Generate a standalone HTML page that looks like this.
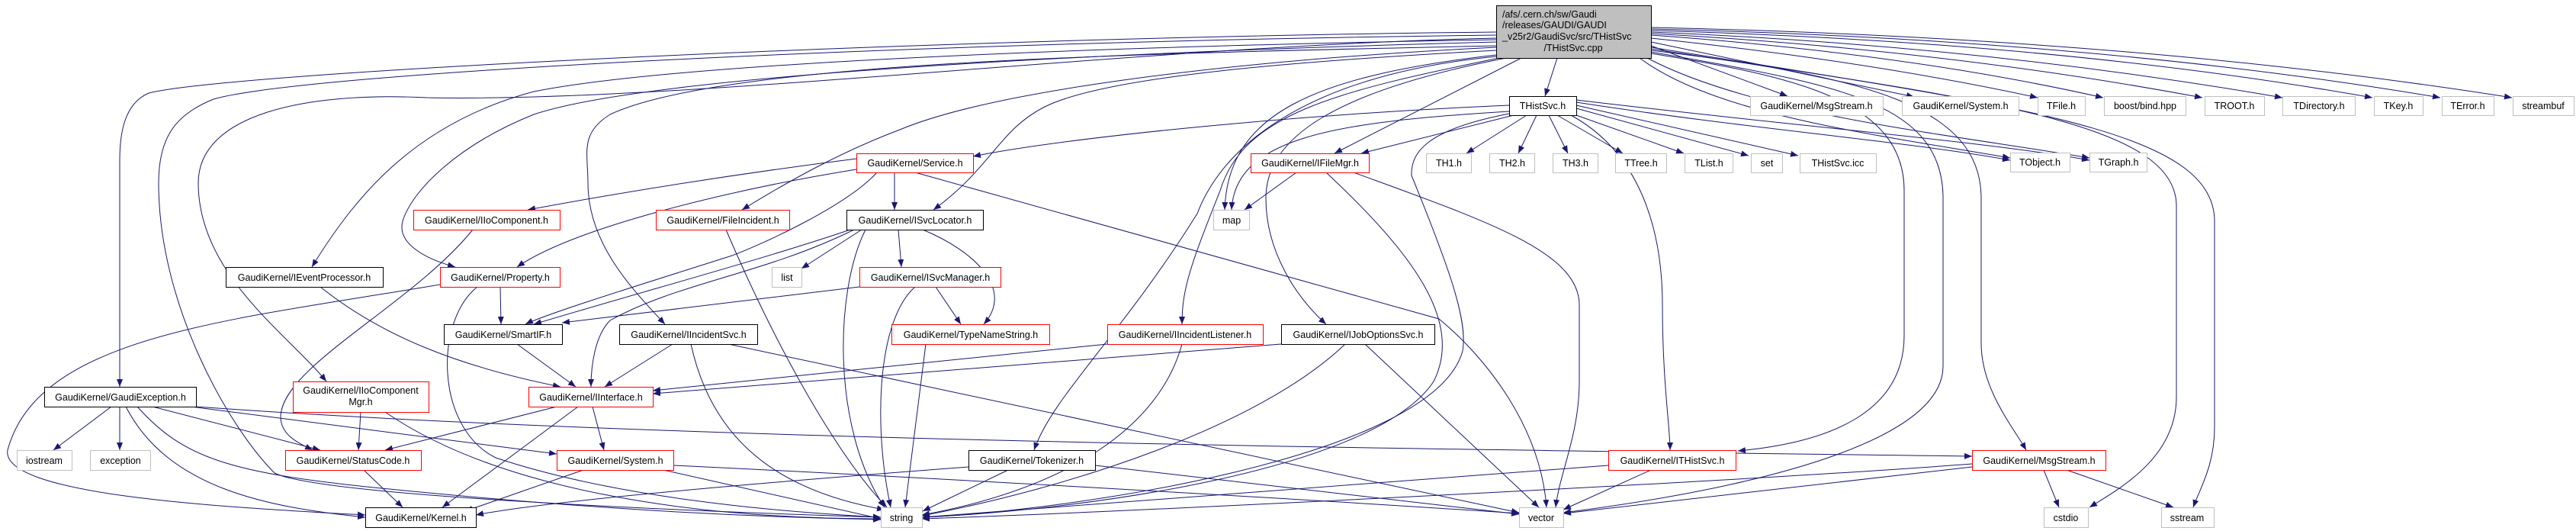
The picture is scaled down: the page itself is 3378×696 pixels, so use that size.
<!DOCTYPE html>
<html><head><meta charset="utf-8"><style>
html,body{margin:0;padding:0;background:#fff;}
svg{display:block;}
text{font-family:"Liberation Sans",sans-serif;font-size:12.5px;fill:#000;}
.e{fill:none;stroke:#191970;stroke-width:1;marker-end:url(#a);}
.b{fill:#fff;stroke:#000;}
.r{fill:#fff;stroke:#ff0000;}
.g{fill:#fff;stroke:#bfbfbf;}
</style></head><body>
<svg width="3378" height="696" viewBox="0 0 3378 696" xmlns="http://www.w3.org/2000/svg">
<defs><marker id="a" markerUnits="userSpaceOnUse" markerWidth="10" markerHeight="8" refX="10" refY="4" orient="auto"><path d="M0,0 L10,4 L0,8 z" fill="#191970"/></marker></defs>
<g>
<path class="e" d="M2042,76 L2026,126"/>
<path class="e" d="M1962,42 C1200,50 300,95 195,122 C165,135 157,170 157,210 L157,507"/>
<path class="e" d="M1962,46 C1200,55 400,95 280,130 C230,150 208,180 208,240 C208,400 300,560 360,620 C420,650 900,670 1155,678"/>
<path class="e" d="M1962,50 C1500,60 900,135 560,128 C400,120 260,150 260,240 C260,360 380,440 428,500"/>
<path class="e" d="M1962,52 C1500,60 900,80 700,120 C550,160 470,250 409,350"/>
<path class="e" d="M1962,55 C1400,70 850,100 700,150 C600,190 540,250 528,290 C520,320 560,340 597,350"/>
<path class="e" d="M1962,60 C1500,70 950,80 800,150 C760,175 771,200 771,240 C771,320 830,380 872,425"/>
<path class="e" d="M1962,62 C1600,80 1300,120 1180,170 C1100,200 1030,240 973,275"/>
<path class="e" d="M1962,66 C1700,80 1450,100 1370,140 C1310,170 1300,220 1224,275"/>
<path class="e" d="M1995,76 L1750,201"/>
<path class="e" d="M1962,72 C1720,100 1610,150 1606,275"/>
<path class="e" d="M1962,74 C1700,100 1600,200 1570,280 C1470,440 1380,520 1356,590"/>
<path class="e" d="M1966,76 C1750,120 1630,150 1600,250 C1560,350 1550,380 1550,425"/>
<path class="e" d="M1975,76 C1750,120 1660,180 1660,260 C1660,330 1700,390 1739,425"/>
<path class="e" d="M2165,70 C2350,100 2497,130 2497,250 L2497,440 C2497,540 2400,580 2279,591"/>
<path class="e" d="M2165,68 C2400,110 2548,130 2548,260 L2548,480 C2548,580 2300,640 2050,672"/>
<path class="e" d="M2165,66 C2450,100 2598,140 2598,260 L2598,450 C2598,510 2640,560 2657,590"/>
<path class="e" d="M2165,64 C2600,130 2854,160 2854,270 L2854,520 C2854,600 2780,640 2740,665"/>
<path class="e" d="M2165,62 C2650,140 2904,170 2904,290 L2904,560 C2904,610 2885,640 2876,665"/>
<path class="e" d="M2165,60 L2344,126"/>
<path class="e" d="M2165,55 L2510,127"/>
<path class="e" d="M2165,50 Q2450,80 2672,128"/>
<path class="e" d="M2165,46 Q2500,70 2758,128"/>
<path class="e" d="M2165,44 Q2550,65 2888,128"/>
<path class="e" d="M2165,42 Q2600,60 2993,128"/>
<path class="e" d="M2165,40 Q2700,55 3111,128"/>
<path class="e" d="M2165,38 Q2750,52 3200,128"/>
<path class="e" d="M2165,36 Q2800,50 3294,128"/>
<path class="e" d="M2150,76 C2250,150 2450,175 2636,207"/>
<path class="e" d="M2160,76 C2300,150 2550,175 2740,207"/>
<path class="e" d="M1979,138 C1700,150 1400,180 1276,205"/>
<path class="e" d="M1985,151 L1785,201"/>
<path class="e" d="M1979,146 C1750,160 1620,180 1615,275"/>
<path class="e" d="M2002,151 L1923,201"/>
<path class="e" d="M2015,151 L1991,201"/>
<path class="e" d="M2031,151 L2056,201"/>
<path class="e" d="M2042,151 L2128,201"/>
<path class="e" d="M2067,151 L2208,201"/>
<path class="e" d="M2067,142 L2293,204"/>
<path class="e" d="M2067,138 L2358,204"/>
<path class="e" d="M2067,134 C2300,170 2500,185 2636,210"/>
<path class="e" d="M2067,131 C2350,165 2600,185 2740,210"/>
<path class="e" d="M1979,149 C1870,170 1850,200 1851,230 C1900,350 1925,420 1918,460 C1880,600 1400,670 1209,678"/>
<path class="e" d="M2060,151 C2150,200 2180,300 2180,400 C2180,500 2190,560 2190,590"/>
<path class="e" d="M1123,208 C950,230 800,255 692,275"/>
<path class="e" d="M1123,222 C950,250 750,300 678,350"/>
<path class="e" d="M1173,226 L1173,275"/>
<path class="e" d="M1150,226 C1110,270 1000,320 960,335 C850,370 720,410 689,425"/>
<path class="e" d="M1200,226 L1887,418 C1950,470 2020,560 2028,665"/>
<path class="e" d="M1130,301 L1051,352"/>
<path class="e" d="M1115,301 C1000,340 850,380 700,425"/>
<path class="e" d="M1120,301 C1000,360 890,370 800,420 C780,440 775,480 775,507"/>
<path class="e" d="M1178,301 L1182,350"/>
<path class="e" d="M1210,301 C1280,330 1330,380 1290,425"/>
<path class="e" d="M1135,301 C1095,380 1090,560 1160,665"/>
<path class="e" d="M1127,376 L737,423"/>
<path class="e" d="M1227,376 L1260,425"/>
<path class="e" d="M1200,376 C1150,420 1145,560 1168,665"/>
<path class="e" d="M656,376 L657,425"/>
<path class="e" d="M577,373 C300,420 50,440 10,590 C0,650 300,665 479,675"/>
<path class="e" d="M626,376 C570,420 570,560 650,600 C800,650 1000,670 1155,678"/>
<path class="e" d="M620,301 C540,400 370,480 368,546 C368,570 390,580 410,590"/>
<path class="e" d="M952,301 C1020,460 1100,600 1163,665"/>
<path class="e" d="M420,376 C500,440 600,480 735,507"/>
<path class="e" d="M678,451 L755,507"/>
<path class="e" d="M882,451 L793,507"/>
<path class="e" d="M906,451 C930,560 1000,640 1160,668"/>
<path class="e" d="M955,451 L1992,672"/>
<path class="e" d="M1452,451 L856,512"/>
<path class="e" d="M1550,451 C1520,560 1400,640 1209,675"/>
<path class="e" d="M1680,451 L856,516"/>
<path class="e" d="M1764,451 C1650,560 1400,640 1209,676"/>
<path class="e" d="M1790,451 L2018,665"/>
<path class="e" d="M1214,451 L1187,665"/>
<path class="e" d="M730,533 L505,590"/>
<path class="e" d="M777,533 L792,590"/>
<path class="e" d="M758,533 L580,665"/>
<path class="e" d="M473,540 L470,590"/>
<path class="e" d="M505,540 C650,640 900,680 1155,680"/>
<path class="e" d="M146,533 L70,590"/>
<path class="e" d="M157,533 L157,590"/>
<path class="e" d="M200,533 L420,590"/>
<path class="e" d="M250,533 L730,595"/>
<path class="e" d="M165,533 C220,640 350,665 479,678"/>
<path class="e" d="M180,533 C240,600 300,620 500,640 C800,670 1000,678 1155,681"/>
<path class="e" d="M257,533 C900,580 2000,590 2586,598"/>
<path class="e" d="M477,616 L528,665"/>
<path class="e" d="M765,616 L610,670"/>
<path class="e" d="M870,616 L1155,680"/>
<path class="e" d="M883,610 C1300,630 1800,660 1992,673"/>
<path class="e" d="M1270,612 C900,640 700,660 624,675"/>
<path class="e" d="M1322,616 L1210,670"/>
<path class="e" d="M1436,610 L1992,674"/>
<path class="e" d="M2109,610 L1209,678"/>
<path class="e" d="M2165,616 L2050,668"/>
<path class="e" d="M2680,616 L2700,665"/>
<path class="e" d="M2710,616 L2850,665"/>
<path class="e" d="M2586,608 C2300,630 1500,670 1209,680"/>
<path class="e" d="M2586,612 L2050,673"/>
<path class="e" d="M1700,226 L1632,275"/>
<path class="e" d="M1739,226 C1850,330 1920,420 1880,500 C1800,620 1400,670 1209,678"/>
<path class="e" d="M1775,226 C1950,290 2071,330 2071,400 L2071,500 C2071,570 2045,620 2040,665"/>
</g>
<rect x="1962.5" y="7.5" width="203" height="69" fill="#bfbfbf" stroke="#000"/>
<text x="1970" y="23">/afs/.cern.ch/sw/Gaudi</text>
<text x="1970" y="37">/releases/GAUDI/GAUDI</text>
<text x="1970" y="52">_v25r2/GaudiSvc/src/THistSvc</text>
<text x="2063" y="67" text-anchor="middle">/THistSvc.cpp</text>
<g text-anchor="middle">
<rect class="b" x="1979.5" y="126.5" width="88" height="25"/><text x="2023" y="143">THistSvc.h</text>
<rect class="g" x="2295.5" y="126.5" width="174" height="25"/><text x="2382" y="143">GaudiKernel/MsgStream.h</text>
<rect class="g" x="2494.5" y="126.5" width="153" height="25"/><text x="2571" y="143">GaudiKernel/System.h</text>
<rect class="g" x="2672.5" y="126.5" width="62" height="25"/><text x="2703" y="143">TFile.h</text>
<rect class="g" x="2759.5" y="126.5" width="107" height="25"/><text x="2813" y="143">boost/bind.hpp</text>
<rect class="g" x="2891.5" y="126.5" width="78" height="25"/><text x="2930" y="143">TROOT.h</text>
<rect class="g" x="2993.5" y="126.5" width="95" height="25"/><text x="3041" y="143">TDirectory.h</text>
<rect class="g" x="3113.5" y="126.5" width="64" height="25"/><text x="3145" y="143">TKey.h</text>
<rect class="g" x="3202.5" y="126.5" width="68" height="25"/><text x="3236" y="143">TError.h</text>
<rect class="g" x="3295.5" y="126.5" width="80" height="25"/><text x="3335" y="143">streambuf</text>

<rect class="r" x="1123.5" y="201.5" width="153" height="25"/><text x="1200" y="218">GaudiKernel/Service.h</text>
<rect class="r" x="1640.5" y="201.5" width="155" height="25"/><text x="1718" y="218">GaudiKernel/IFileMgr.h</text>
<rect class="g" x="1870.5" y="201.5" width="59" height="25"/><text x="1900" y="218">TH1.h</text>
<rect class="g" x="1953.5" y="201.5" width="59" height="25"/><text x="1983" y="218">TH2.h</text>
<rect class="g" x="2036.5" y="201.5" width="59" height="25"/><text x="2066" y="218">TH3.h</text>
<rect class="g" x="2118.5" y="201.5" width="67" height="25"/><text x="2152" y="218">TTree.h</text>
<rect class="g" x="2209.5" y="201.5" width="63" height="25"/><text x="2241" y="218">TList.h</text>
<rect class="g" x="2296.5" y="201.5" width="41" height="25"/><text x="2317" y="218">set</text>
<rect class="g" x="2360.5" y="201.5" width="100" height="25"/><text x="2410" y="218">THistSvc.icc</text>
<rect class="g" x="2636.5" y="200.5" width="78" height="25"/><text x="2675" y="217">TObject.h</text>
<rect class="g" x="2740.5" y="200.5" width="75" height="25"/><text x="2778" y="217">TGraph.h</text>

<rect class="r" x="542.5" y="275.5" width="192" height="26"/><text x="638" y="293">GaudiKernel/IIoComponent.h</text>
<rect class="r" x="860.5" y="275.5" width="175" height="26"/><text x="948" y="293">GaudiKernel/FileIncident.h</text>
<rect class="b" x="1110.5" y="275.5" width="179" height="26"/><text x="1200" y="293">GaudiKernel/ISvcLocator.h</text>
<rect class="g" x="1591.5" y="275.5" width="47" height="26"/><text x="1615" y="293">map</text>

<rect class="b" x="296.5" y="350.5" width="206" height="26"/><text x="399" y="368">GaudiKernel/IEventProcessor.h</text>
<rect class="r" x="577.5" y="350.5" width="157" height="26"/><text x="656" y="368">GaudiKernel/Property.h</text>
<rect class="g" x="1012.5" y="350.5" width="39" height="26"/><text x="1032" y="368">list</text>
<rect class="r" x="1127.5" y="350.5" width="185" height="26"/><text x="1220" y="368">GaudiKernel/ISvcManager.h</text>

<rect class="b" x="582.5" y="425.5" width="155" height="26"/><text x="660" y="443">GaudiKernel/SmartIF.h</text>
<rect class="b" x="812.5" y="425.5" width="181" height="26"/><text x="903" y="443">GaudiKernel/IIncidentSvc.h</text>
<rect class="r" x="1169.5" y="425.5" width="207" height="26"/><text x="1273" y="443">GaudiKernel/TypeNameString.h</text>
<rect class="r" x="1452.5" y="425.5" width="204" height="26"/><text x="1554" y="443">GaudiKernel/IIncidentListener.h</text>
<rect class="b" x="1680.5" y="425.5" width="201" height="26"/><text x="1781" y="443">GaudiKernel/IJobOptionsSvc.h</text>

<rect class="b" x="58.5" y="507.5" width="199" height="26"/><text x="158" y="525">GaudiKernel/GaudiException.h</text>
<rect class="r" x="384.5" y="500.5" width="178" height="40"/><text x="473" y="516">GaudiKernel/IIoComponent</text><text x="473" y="531">Mgr.h</text>
<rect class="r" x="693.5" y="507.5" width="163" height="26"/><text x="775" y="525">GaudiKernel/IInterface.h</text>

<rect class="g" x="22.5" y="590.5" width="72" height="26"/><text x="58" y="608">iostream</text>
<rect class="g" x="118.5" y="590.5" width="79" height="26"/><text x="158" y="608">exception</text>
<rect class="r" x="374.5" y="590.5" width="178" height="26"/><text x="463" y="608">GaudiKernel/StatusCode.h</text>
<rect class="r" x="730.5" y="590.5" width="153" height="26"/><text x="807" y="608">GaudiKernel/System.h</text>
<rect class="b" x="1270.5" y="590.5" width="166" height="26"/><text x="1353" y="608">GaudiKernel/Tokenizer.h</text>
<rect class="r" x="2109.5" y="590.5" width="167" height="26"/><text x="2193" y="608">GaudiKernel/ITHistSvc.h</text>
<rect class="r" x="2586.5" y="590.5" width="175" height="26"/><text x="2674" y="608">GaudiKernel/MsgStream.h</text>

<rect class="b" x="479.5" y="665.5" width="145" height="26"/><text x="552" y="683">GaudiKernel/Kernel.h</text>
<rect class="g" x="1155.5" y="665.5" width="54" height="26"/><text x="1182" y="683">string</text>
<rect class="g" x="1992.5" y="665.5" width="58" height="26"/><text x="2021" y="683">vector</text>
<rect class="g" x="2680.5" y="665.5" width="58" height="26"/><text x="2709" y="683">cstdio</text>
<rect class="g" x="2834.5" y="665.5" width="69" height="26"/><text x="2868" y="683">sstream</text>
</g>
</svg>
</body></html>
